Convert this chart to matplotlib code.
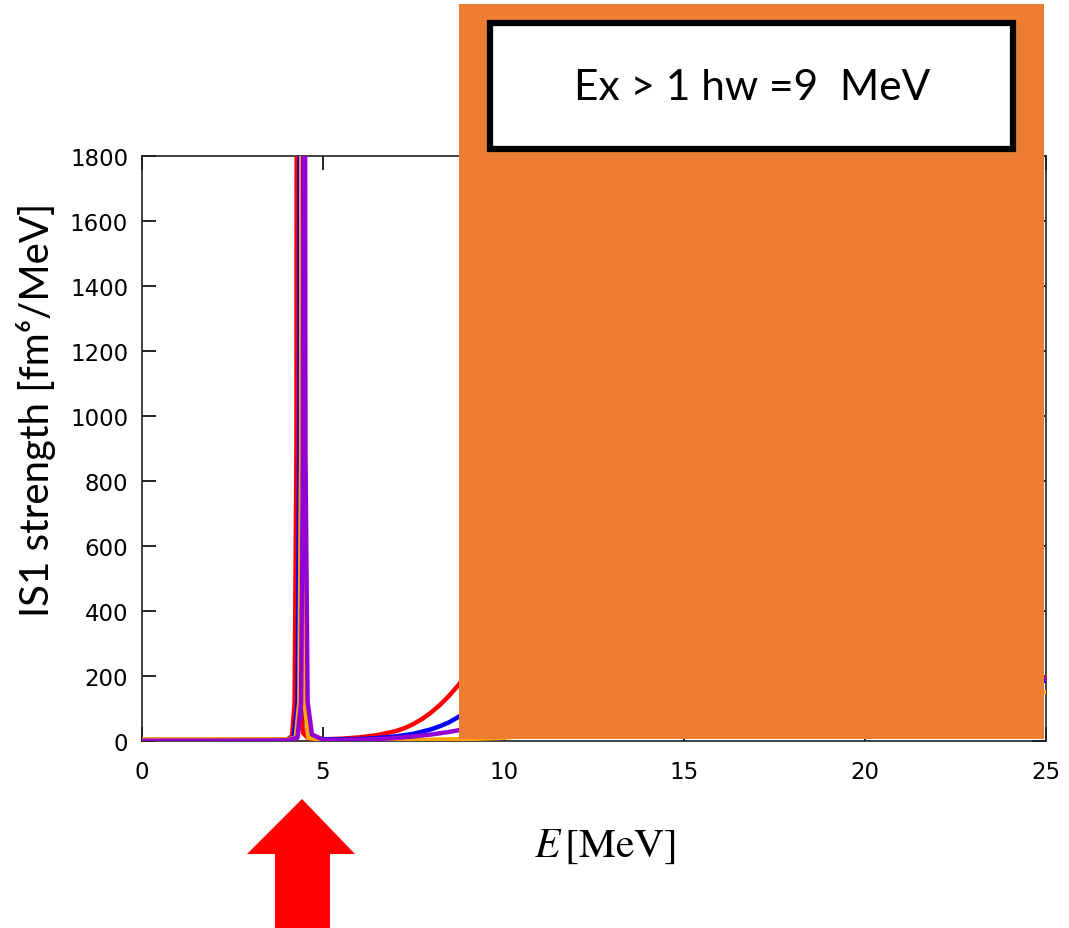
import matplotlib
matplotlib.use("Agg")
import matplotlib.pyplot as plt
from matplotlib.patches import Rectangle, Polygon
from matplotlib import font_manager

# ---------------- data ----------------
E_red = [0, 2, 4.0, 4.15, 4.22, 4.27, 4.30, 4.33, 4.38, 4.45, 4.6, 5.0, 5.5, 6.0, 6.5, 7.0, 7.25, 7.5, 7.75,
         8.0, 8.25, 8.5, 8.75, 9.0, 10, 12, 15, 18, 20, 22, 25]
S_red = [3, 3, 4, 15, 120, 900, 5000, 900, 120, 25, 8, 5, 7, 11, 18, 30, 39, 52, 68,
         88, 112, 140, 172, 210, 300, 330, 300, 260, 230, 210, 195]

E_blue = [0, 2, 4.0, 4.2, 4.30, 4.35, 4.38, 4.41, 4.46, 4.6, 5.0, 5.5, 6.0, 6.5, 7.0, 7.5, 8.0, 8.25, 8.5, 8.75, 9.0,
          10, 12, 15, 18, 20, 22, 25]
S_blue = [3, 3, 4, 12, 120, 900, 5000, 900, 120, 15, 5, 5, 6, 9, 14, 22, 36, 46, 58, 74, 92,
          150, 240, 260, 240, 220, 200, 185]

E_orange = [0, 2, 4.0, 4.25, 4.35, 4.40, 4.42, 4.44, 4.49, 4.6, 5.0, 6.0, 7.0, 8.0, 9.0,
            10, 12, 15, 18, 20, 22, 25]
S_orange = [5, 5, 5, 10, 120, 900, 5000, 900, 120, 10, 2, 2, 3, 4, 6,
            10, 30, 60, 90, 110, 130, 150]

E_purple = [0, 2, 4.0, 4.3, 4.40, 4.45, 4.48, 4.52, 4.58, 4.7, 5.0, 5.5, 6.0, 6.5, 7.0, 7.5, 8.0, 8.5, 9.0,
            10, 12, 15, 18, 20, 22, 25]
S_purple = [1, 1, 2, 10, 120, 900, 5000, 900, 120, 20, 4, 3, 4, 6, 9, 14, 20, 28, 38,
            60, 120, 180, 200, 200, 195, 190]

xticks = [0, 5, 10, 15, 20, 25]
yticks = [0, 200, 400, 600, 800, 1000, 1200, 1400, 1600, 1800]

box_text = "Ex > 1 hw =9  MeV"
ylabel = "IS1 strength [fm\u2076/MeV]"
xlabel = r"$E\,[\mathrm{MeV}]$"

# ---------------- fonts ----------------
names = {f.name for f in font_manager.fontManager.ttflist}
tick_font = "Liberation Sans Narrow" if "Liberation Sans Narrow" in names else "DejaVu Sans"
label_font = "Lato" if "Lato" in names else "DejaVu Sans"
plt.rcParams["mathtext.fontset"] = "stix"

W, H = 1069, 929
fig = plt.figure(figsize=(W / 100, H / 100), dpi=100)
ax = fig.add_axes([142 / W, 1 - 742 / H, (1046 - 142) / W, (742 - 157) / H])

lw = 3.2
ax.plot(E_red, S_red, color="#ff0000", lw=lw, zorder=3)
ax.plot(E_blue, S_blue, color="#0000ff", lw=lw, zorder=4)
ax.plot(E_orange, S_orange, color="#ffa500", lw=lw, zorder=5)
ax.plot(E_purple, S_purple, color="#9400d3", lw=lw, zorder=6)

ax.set_xlim(0, 25)
ax.set_ylim(0, 1800)
ax.set_xticks(xticks)
ax.set_yticks(yticks)
ax.tick_params(direction="in", top=True, right=True, length=10, width=1.2, colors="black")
ax.tick_params(axis="x", pad=14)
ax.tick_params(axis="y", pad=10)
for lab in ax.get_xticklabels() + ax.get_yticklabels():
    lab.set_fontfamily(tick_font)
    lab.set_fontsize(16.5)
for sp in ax.spines.values():
    sp.set_linewidth(1.2)
    sp.set_color("#222222")

fig.text(36 / W, 1 - 410 / H, ylabel, rotation=90, ha="center", va="center",
         fontsize=29, family=[label_font, "DejaVu Sans"])
fig.text(605 / W, 1 - 845 / H, xlabel, ha="center", va="center", fontsize=30)

# orange overlay and text box
fig.patches.append(Rectangle((459 / W, 1 - 740 / H), (1044 - 459) / W, (740 - 5) / H,
                             transform=fig.transFigure, facecolor="#ED7D31",
                             edgecolor="none", zorder=10))
fig.patches.append(Rectangle((490 / W, 1 - 150 / H), (1013 - 490) / W, (150 - 24) / H,
                             transform=fig.transFigure, facecolor="white",
                             edgecolor="black", lw=4.5, zorder=11))
fig.text(752 / W, 1 - 88 / H, box_text, ha="center", va="center", fontsize=30.5,
         family=label_font, zorder=12)

# red arrow
arrow_pts = [(302, 800), (355, 855), (330, 855), (330, 929), (275, 929), (275, 855), (247, 855)]
fig.patches.append(Polygon([(x / W, 1 - y / H) for x, y in arrow_pts], closed=True,
                           transform=fig.transFigure, facecolor="#ff0000",
                           edgecolor="none", zorder=10))

fig.savefig("out.png", dpi=100)
